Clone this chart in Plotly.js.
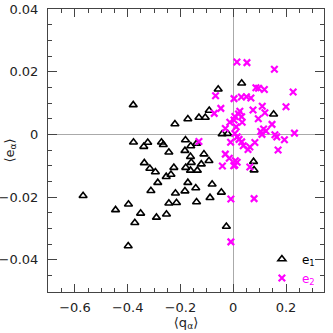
<!DOCTYPE html>
<html>
<head>
<meta charset="utf-8">
<script src="https://cdn.plot.ly/plotly-3.0.1.min.js"></script>
<style>
  html, body { margin: 0; padding: 0; background: #fff; }
  #plot { width: 333px; height: 333px; }
</style>
</head>
<body>
<div id="plot"></div>
<script>
// e1 component: <q_alpha> vs <e_alpha>
var e1Q = [-0.379, -0.378, -0.339, -0.324, -0.272, -0.265, -0.244, -0.337, -0.316, -0.295,
           -0.286, -0.254, -0.236, -0.225, -0.312, -0.244, -0.215, -0.569, -0.446, -0.397,
           -0.351, -0.373, -0.291, -0.253, -0.398, -0.219, -0.183, -0.172, -0.142, -0.139,
           -0.088, -0.080, -0.045, -0.026, -0.180, -0.162, -0.136, -0.159, -0.121, -0.092,
           -0.181, -0.161, -0.139, -0.183, -0.162, -0.111, -0.221, -0.172, -0.130, -0.106,
           -0.091, -0.057, 0.032, -0.042, -0.021, 0.153, 0.077, 0.079];
var e1E = [0.0094, -0.0025, -0.0039, -0.0026, -0.0025, -0.0033, -0.0057, -0.0091, -0.0109, -0.0120,
           -0.0154, -0.0135, -0.0128, -0.0106, -0.0180, -0.0220, -0.0218, -0.0196, -0.0241, -0.0223,
           -0.0252, -0.0282, -0.0265, -0.0255, -0.0356, -0.0188, -0.0181, -0.0154, -0.0171, -0.0216,
           -0.0202, -0.0159, -0.0185, -0.0294, -0.0106, -0.0115, -0.0115, -0.0090, -0.0095, -0.0084,
           -0.0018, -0.0037, -0.0029, -0.0052, -0.0071, -0.0063, 0.0033, 0.0049, 0.0054, 0.0054,
           0.0076, 0.0144, 0.0163, 0.0001, 0.0002, 0.0064, -0.0087, -0.0114];

// e2 component
var e2Q = [0.014, 0.052, 0.156, 0.086, 0.096, 0.118, 0.227, -0.067, 0.003, 0.031,
           0.050, 0.067, 0.110, 0.200, -0.047, -0.072, 0.075, 0.025, 0.020, 0.120,
           0.006, 0.032, 0.003, -0.013, 0.034, 0.095, 0.147, -0.030, 0.011, 0.115,
           0.104, 0.124, 0.109, 0.158, 0.165, 0.232, 0.194, 0.006, 0.015, -0.010,
           0.022, 0.032, 0.038, 0.056, 0.063, 0.082, 0.170, -0.030, -0.015, 0.008,
           0.015, 0.006, 0.063, -0.041, 0.002, -0.009, 0.079, -0.009, -0.130];
var e2E = [0.0231, 0.0229, 0.0208, 0.0149, 0.0147, 0.0143, 0.0135, 0.0123, 0.0114, 0.0119,
           0.0120, 0.0116, 0.0090, 0.0088, 0.0083, 0.0067, 0.0078, 0.0074, 0.0065, 0.0069,
           0.0057, 0.0056, 0.0046, 0.0039, 0.0039, 0.0050, 0.0032, 0.0019, 0.0024, 0.0017,
           0.0009, 0.0011, 0.0000, -0.0001, -0.0008, 0.0004, -0.0017, 0.0003, -0.0008, -0.0025,
           -0.0016, -0.0024, -0.0036, -0.0048, -0.0040, -0.0026, -0.0050, -0.0063, -0.0076, -0.0084,
           -0.0089, -0.0098, -0.0104, -0.0101, -0.0100, -0.0206, -0.0205, -0.0343, -0.0023];

var textFont = { family: 'DejaVu Sans, sans-serif', size: 13, color: '#222' };
var frameColor = '#444';

var data = [
    {
        x: e1Q, y: e1E,
        type: 'scatter', mode: 'markers',
        name: 'e<sub>1</sub>',
        marker: { symbol: 'triangle-up-open', size: 7, color: '#000', line: { width: 1.6, color: '#000' } }
    },
    {
        x: e2Q, y: e2E,
        type: 'scatter', mode: 'markers',
        name: '<span style="color:#ff00ff">e<sub>2</sub></span>',
        marker: { symbol: 'x-thin', size: 6.5, color: '#ff00ff', line: { width: 2.2, color: '#ff00ff' } }
    }
];

var layout = {
    width: 333,
    height: 333,
    margin: { l: 48, r: 9, t: 9, b: 41, pad: 0 },
    paper_bgcolor: '#fff',
    plot_bgcolor: '#fff',
    font: textFont,
    showlegend: true,
    legend: {
        x: 0.775, y: 0.168, xanchor: 'left', yanchor: 'top',
        bgcolor: 'rgba(0,0,0,0)',
        font: { family: 'DejaVu Sans, sans-serif', size: 12, color: '#000' },
        tracegroupgap: 0
    },
    xaxis: {
        range: [-0.702, 0.344],
        tickmode: 'linear', tick0: 0, dtick: 0.2,
        ticks: 'inside', ticklen: 8, tickwidth: 1, tickcolor: frameColor,
        minor: { dtick: 0.05, ticks: 'inside', ticklen: 4, tickcolor: frameColor },
        showline: true, linecolor: frameColor, linewidth: 1, mirror: 'ticks',
        showgrid: false,
        zeroline: true, zerolinecolor: '#aaa', zerolinewidth: 1,
        tickfont: textFont,
        ticklabelstandoff: 3,
        title: { text: '⟨q<sub>α</sub>⟩', font: textFont, standoff: 3 }
    },
    yaxis: {
        range: [-0.0503, 0.04001],
        tickmode: 'linear', tick0: 0, dtick: 0.02,
        ticks: 'inside', ticklen: 9, tickwidth: 1, tickcolor: frameColor,
        minor: { dtick: 0.005, ticks: 'inside', ticklen: 4, tickcolor: frameColor },
        showline: true, linecolor: frameColor, linewidth: 1, mirror: 'ticks',
        showgrid: false,
        zeroline: true, zerolinecolor: '#aaa', zerolinewidth: 1,
        tickfont: textFont,
        ticklabelstandoff: 6
    },
    annotations: [{
        text: '⟨e<sub>α</sub>⟩',
        xref: 'paper', yref: 'paper',
        x: 0, y: 0.5, xshift: -38,
        xanchor: 'center', yanchor: 'middle',
        textangle: -90,
        showarrow: false,
        font: textFont
    }]
};

Plotly.newPlot('plot', data, layout, { staticPlot: true, displayModeBar: false });
</script>
</body>
</html>
